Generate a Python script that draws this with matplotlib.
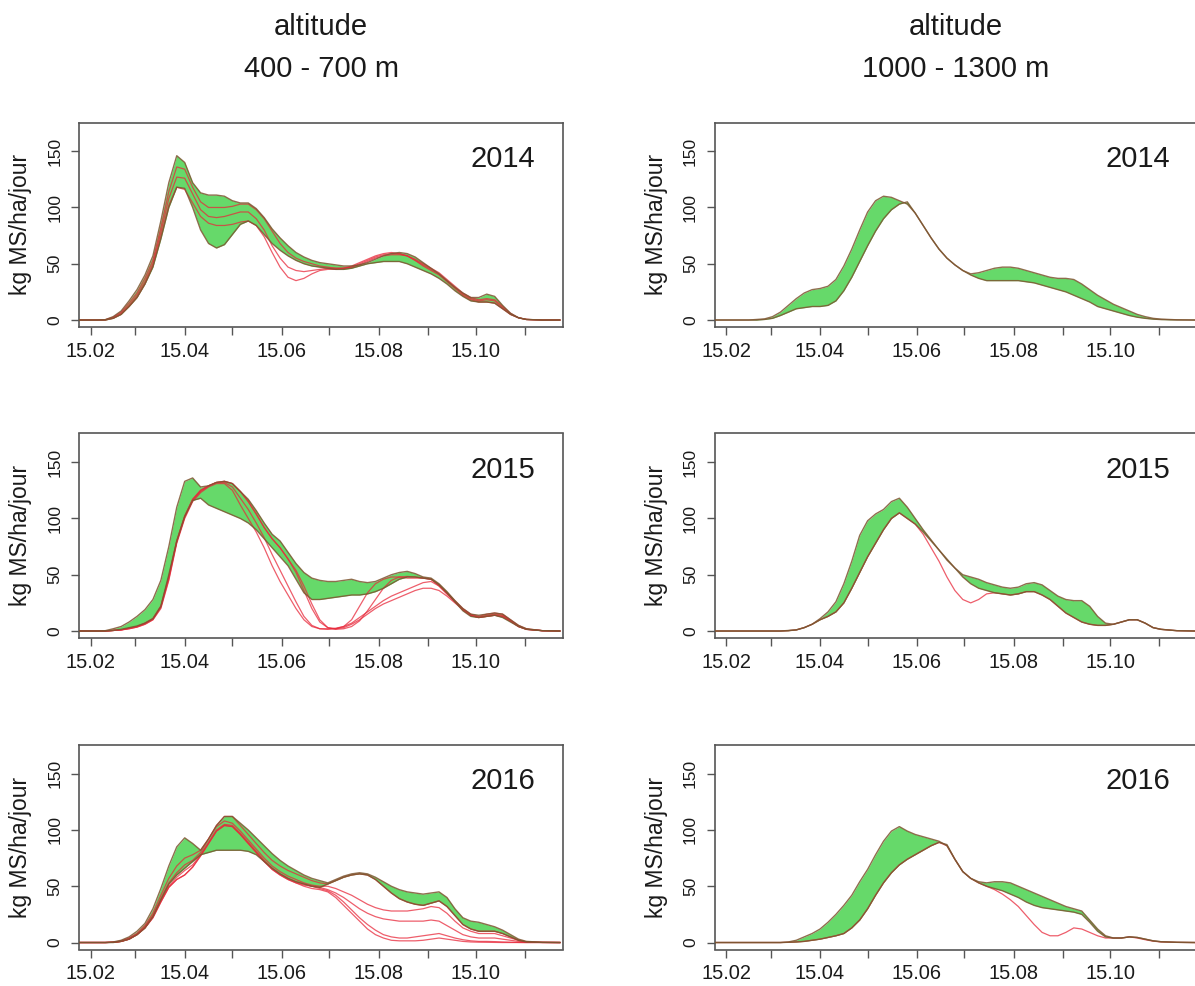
import numpy as np
import matplotlib
matplotlib.use("Agg")
import matplotlib.pyplot as plt

plt.rcParams["font.family"] = ["Liberation Sans", "DejaVu Sans"]

# ---------------------------------------------------------------- data
# day of year at which every series is given
DAYS = [38, 50, 55, 60, 65, 70, 75, 80, 85, 90,
        95, 100, 105, 110, 115, 120, 125, 130, 135, 140,
        145, 150, 155, 160, 165, 170, 175, 180, 185, 190,
        195, 200, 205, 210, 215, 220, 225, 230, 235, 240,
        245, 250, 255, 260, 265, 270, 275, 280, 285, 290,
        295, 300, 305, 310, 315, 320, 330, 341]

# x axis: the 15th of each month (day of year) and its label
MONTH_DAYS = [46, 74, 105, 135, 166, 196, 227, 258, 288, 319]
MONTH_LABELS = ["15.02", "", "15.04", "", "15.06", "", "15.08", "", "15.10", ""]
Y_TICKS = [0, 50, 100, 150]
YEARS = ["2014", "2015", "2016"]
ALTITUDES = ["400 - 700 m", "1000 - 1300 m"]
Y_LABEL = "kg MS/ha/jour"

# ---- 400 - 700 m, 2014
low_2014_upper = [0, 0, 0.3, 3, 8, 17, 27, 40, 57, 88,
                  122, 146, 140, 122, 113, 111, 111, 110, 106, 104,
                  104, 99, 91, 81, 73, 66, 60, 56, 53, 51,
                  50, 49, 48, 48, 49, 51, 54, 57, 59, 60,
                  59, 56, 51, 46, 41, 35, 29, 24, 20, 20,
                  23, 21, 13, 6, 2, 0.5, 0, 0]
low_2014_lower = [0, 0, 0, 1.5, 5, 12, 20, 32, 47, 72,
                  100, 118, 117, 100, 80, 68, 64, 67, 76, 85,
                  88, 84, 76, 68, 62, 57, 53, 50, 48, 47,
                  46, 45, 45, 46, 48, 50, 51, 52, 52, 52,
                  50, 47, 44, 41, 37, 32, 26, 21, 17, 16,
                  16, 15, 10, 5, 2, 0.5, 0, 0]
low_2014_run1 = [0, 0, 0.3, 2.5, 7, 15, 24, 37, 53, 82,
                 114, 136, 134, 118, 105, 100, 100, 100, 101, 103,
                 103, 98, 90, 79, 68, 60, 55, 52, 50, 48,
                 47, 46, 46, 47, 49, 52, 55, 57, 58, 58,
                 57, 54, 50, 46, 42, 36, 30, 24, 20, 18,
                 19, 18, 12, 6, 2, 0.5, 0, 0]
low_2014_run2 = [0, 0, 0.2, 2, 6, 13, 22, 34, 50, 78,
                 108, 127, 126, 112, 98, 92, 91, 92, 94, 96,
                 96, 90, 80, 66, 55, 47, 44, 43, 44, 45,
                 46, 46, 46, 47, 50, 53, 56, 58, 59, 59,
                 57, 53, 49, 45, 41, 35, 29, 23, 19, 17,
                 18, 17, 11, 5, 2, 0.5, 0, 0]
low_2014_run3 = [0, 0, 0, 1.5, 5, 12, 20, 32, 48, 74,
                 102, 118, 116, 104, 92, 86, 84, 84, 85, 87,
                 88, 84, 74, 60, 47, 38, 35, 37, 41, 44,
                 45, 45, 46, 48, 51, 54, 57, 59, 60, 59,
                 57, 53, 48, 44, 40, 34, 28, 22, 18, 16,
                 16, 15, 10, 5, 2, 0.5, 0, 0]

# ---- 1000 - 1300 m, 2014
high_2014_upper = [0, 0, 0, 0, 0.5, 1, 3, 7, 13, 19,
                   24, 27, 28, 30, 36, 48, 63, 80, 96, 106,
                   110, 109, 106, 103, 95, 84, 73, 63, 55, 49,
                   44, 41, 42, 44, 46, 47, 47, 46, 44, 42,
                   40, 38, 37, 37, 36, 32, 27, 22, 18, 14,
                   11, 8, 5, 3, 1.5, 0.8, 0.2, 0]
high_2014_lower = [0, 0, 0, 0, 0, 0.5, 1.5, 4, 7, 10,
                   11, 12, 12, 13, 17, 26, 38, 52, 66, 79,
                   90, 98, 103, 105, 95, 84, 73, 63, 55, 49,
                   44, 40, 37, 35, 35, 35, 35, 35, 34, 33,
                   31, 29, 27, 25, 22, 19, 16, 12, 10, 8,
                   6, 4, 2.5, 1.5, 0.8, 0.4, 0.1, 0]

# ---- 400 - 700 m, 2015
low_2015_upper = [0, 0, 0.3, 2, 4, 8, 13, 19, 28, 45,
                  75, 110, 133, 136, 128, 129, 132, 133, 131, 124,
                  117, 107, 96, 86, 80, 70, 60, 52, 47, 45,
                  44, 44, 45, 46, 44, 43, 44, 47, 50, 52,
                  53, 51, 48, 47, 42, 35, 27, 20, 15, 14,
                  15, 16, 15, 10, 5, 2, 0.3, 0]
low_2015_lower = [0, 0, 0, 0.5, 1.5, 3, 4.5, 7, 11, 22,
                  50, 80, 102, 116, 118, 112, 109, 106, 103, 100,
                  96, 90, 82, 74, 66, 58, 46, 34, 28, 28,
                  29, 30, 31, 32, 32, 33, 35, 38, 42, 46,
                  48, 48, 47, 46, 41, 34, 26, 18, 13, 12,
                  13, 14, 12, 8, 4, 1.5, 0.3, 0]
low_2015_run1 = [0, 0, 0, 0.5, 1, 2.5, 4, 7, 11, 22,
                 48, 80, 102, 117, 125, 129, 132, 133, 131, 124,
                 115, 104, 92, 82, 74, 64, 54, 40, 24, 10,
                 3, 1.5, 2, 4, 9, 18, 28, 38, 45, 48,
                 48.5, 48, 47, 46, 40, 33, 26, 19, 14, 12,
                 14, 15, 14, 9, 4, 1.5, 0.3, 0]
low_2015_run2 = [0, 0, 0, 0.5, 1, 2, 3.5, 6, 10, 20,
                 45, 78, 100, 115, 123, 128, 131, 131, 125, 112,
                 100, 88, 74, 58, 44, 32, 20, 10, 4, 2,
                 2, 2.5, 4, 7, 12, 17, 22, 27, 31, 34,
                 37, 40, 43, 44, 40, 33, 26, 19, 14, 12,
                 13, 14, 13, 9, 4, 1.5, 0.3, 0]
low_2015_run3 = [0, 0, 0, 0.5, 1, 2, 3.5, 6, 10, 21,
                 46, 79, 101, 116, 124, 129, 132, 132, 128, 118,
                 108, 96, 83, 68, 54, 40, 26, 13, 5, 2,
                 1.5, 2, 3, 6, 10, 15, 20, 24, 27, 30,
                 33, 36, 38, 38, 36, 31, 25, 19, 14, 12,
                 13, 14, 13, 9, 4, 1.5, 0.3, 0]
low_2015_run4 = [0, 0, 0, 0.5, 1, 2.5, 4, 7, 11, 22,
                 48, 80, 102, 117, 125, 129, 132, 133, 131, 124,
                 115, 104, 92, 82, 74, 64, 52, 36, 20, 8,
                 3, 2, 4, 10, 22, 34, 42, 46, 48, 48,
                 47, 47, 47, 46, 41, 34, 27, 20, 15, 13,
                 15, 16, 15, 10, 5, 2, 0.3, 0]

# ---- 1000 - 1300 m, 2015
high_2015_upper = [0, 0, 0, 0, 0, 0, 0, 0, 0.5, 1,
                   3, 6, 11, 17, 26, 42, 62, 85, 98, 104,
                   108, 115, 118, 110, 100, 90, 81, 72, 64, 56,
                   50, 48, 46, 43, 41, 39, 38, 39, 42, 43,
                   41, 36, 31, 28, 27, 27, 22, 13, 7, 6,
                   8, 10, 10, 7, 3, 1.5, 0.3, 0]
high_2015_lower = [0, 0, 0, 0, 0, 0, 0, 0, 0.3, 1,
                   3, 6, 10, 13, 17, 25, 38, 52, 66, 78,
                   90, 100, 105, 100, 95, 88, 80, 72, 63, 56,
                   48, 42, 38, 36, 34, 33, 32, 33, 35, 35,
                   32, 28, 22, 16, 12, 8, 6, 5, 5, 6,
                   8, 10, 10, 7, 3, 1.5, 0.3, 0]
high_2015_run1 = [0, 0, 0, 0, 0, 0, 0, 0, 0.3, 1,
                  3, 6, 10, 13, 17, 25, 38, 52, 66, 78,
                  90, 100, 105, 100, 95, 86, 74, 62, 48, 36,
                  28, 25, 28, 33, 34, 33, 32, 33, 35, 35,
                  32, 28, 22, 16, 12, 8, 6, 5, 5, 6,
                  8, 10, 10, 7, 3, 1.5, 0.3, 0]

# ---- 400 - 700 m, 2016
low_2016_upper = [0, 0, 0, 0.5, 2, 5, 10, 17, 30, 48,
                  68, 85, 93, 88, 82, 92, 104, 112, 112, 106,
                  100, 93, 86, 79, 73, 68, 64, 60, 57, 55,
                  53, 56, 59, 61, 62, 61, 58, 54, 50, 47,
                  45, 44, 43, 44, 45, 40, 30, 22, 19, 18,
                  16, 14, 11, 7, 3, 1, 0.2, 0]
low_2016_lower = [0, 0, 0, 0, 1, 3, 7, 13, 23, 38,
                  52, 60, 66, 72, 78, 80, 82, 82, 82, 82,
                  81, 78, 72, 66, 61, 57, 54, 52, 50, 49,
                  52, 55, 58, 60, 61, 60, 56, 50, 44, 39,
                  36, 34, 33, 35, 37, 32, 24, 16, 12, 10,
                  10, 10, 8, 5, 2, 0.5, 0.1, 0]
low_2016_run1 = [0, 0, 0, 0.3, 1.5, 4, 8, 15, 26, 42,
                 57, 68, 75, 78, 82, 92, 104, 112, 112, 104,
                 96, 88, 80, 73, 68, 64, 61, 58, 55, 53,
                 52, 55, 58, 60, 61, 60, 56, 50, 44, 39,
                 36, 34, 33, 35, 37, 32, 24, 16, 12, 10,
                 10, 10, 8, 5, 2, 0.5, 0.1, 0]
low_2016_run2 = [0, 0, 0, 0.2, 1, 3.5, 7.5, 14, 24, 39,
                 53, 62, 69, 73, 80, 92, 103, 108, 106, 99,
                 91, 83, 75, 68, 63, 59, 56, 53, 51, 50,
                 50, 48, 45, 42, 38, 34, 31, 29, 28, 28,
                 28, 29, 30, 32, 31, 26, 19, 13, 10, 8,
                 8, 8, 6, 4, 2, 0.5, 0.1, 0]
low_2016_run3 = [0, 0, 0, 0.2, 1, 3, 7, 13, 23, 37,
                 50, 58, 64, 69, 78, 89, 100, 105, 104, 97,
                 89, 81, 73, 66, 61, 57, 54, 52, 50, 49,
                 47, 44, 40, 35, 30, 26, 23, 21, 20, 19,
                 19, 19, 19, 20, 19, 15, 11, 7, 5, 4,
                 4, 4, 3, 2, 1, 0.3, 0.1, 0]
low_2016_run4 = [0, 0, 0, 0.2, 1, 3, 7, 13, 22, 36,
                 49, 56, 60, 67, 77, 88, 99, 104, 103, 96,
                 88, 80, 72, 65, 60, 56, 53, 51, 50, 48,
                 46, 42, 36, 29, 22, 16, 11, 7, 5, 4,
                 4, 5, 6, 7, 8, 6, 4, 2.5, 1.5, 1,
                 1, 0.8, 0.5, 0.3, 0.1, 0, 0, 0]
low_2016_run5 = [0, 0, 0, 0.2, 1, 3, 7, 13, 22, 36,
                 49, 56, 60, 67, 77, 88, 99, 104, 103, 96,
                 88, 80, 72, 65, 60, 56, 53, 50, 48, 47,
                 45, 40, 33, 26, 19, 12, 7, 4, 2, 1.5,
                 1.5, 1.5, 2, 3, 4, 3, 2, 1, 0.5, 0.3,
                 0.2, 0.1, 0, 0, 0, 0, 0, 0]

# ---- 1000 - 1300 m, 2016
high_2016_upper = [0, 0, 0, 0, 0, 0, 0, 0, 0.5, 2,
                   5, 8, 12, 18, 25, 33, 42, 54, 65, 78,
                   90, 99, 103, 99, 96, 94, 92, 90, 86, 74,
                   63, 57, 54, 53, 54, 54, 53, 50, 47, 44,
                   41, 38, 35, 32, 30, 28, 20, 12, 6, 4,
                   4, 5, 4.5, 3, 1.5, 0.7, 0.2, 0]
high_2016_lower = [0, 0, 0, 0, 0, 0, 0, 0, 0.2, 0.5,
                   1, 2, 3, 4.5, 6, 8, 13, 20, 30, 42,
                   53, 62, 69, 74, 78, 82, 86, 89, 87, 74,
                   63, 57, 53, 50, 48, 46, 43, 40, 36, 33,
                   31, 30, 29, 28, 27, 25, 18, 10, 5, 4,
                   4, 5, 4.5, 3, 1.5, 0.7, 0.2, 0]
high_2016_run1 = [0, 0, 0, 0, 0, 0, 0, 0, 0.2, 0.5,
                  1, 2, 3, 4.5, 6, 8, 13, 20, 30, 42,
                  53, 62, 69, 74, 78, 82, 86, 89, 86, 74,
                  63, 57, 53, 50, 47, 43, 38, 32, 24, 16,
                  9, 6, 6, 9, 13, 12, 9, 6, 4, 4,
                  4, 5, 4, 2.5, 1.2, 0.5, 0.1, 0]

# panel (row, column) -> (band upper edge, band lower edge, simulation runs)
PANELS = {
    (0, 0): (low_2014_upper, low_2014_lower, [low_2014_run1, low_2014_run2, low_2014_run3]),
    (0, 1): (high_2014_upper, high_2014_lower, []),
    (1, 0): (low_2015_upper, low_2015_lower,
             [low_2015_run1, low_2015_run2, low_2015_run3, low_2015_run4]),
    (1, 1): (high_2015_upper, high_2015_lower, [high_2015_run1]),
    (2, 0): (low_2016_upper, low_2016_lower,
             [low_2016_run1, low_2016_run2, low_2016_run3, low_2016_run4, low_2016_run5]),
    (2, 1): (high_2016_upper, high_2016_lower, [high_2016_run1]),
}

# ---------------------------------------------------------------- style
W, H = 1195, 986
GREEN = "#66d96a"
EDGE = "#7d5530"
RED = "#e8283a"
FRAME = "#555555"
TEXT = "#1a1a1a"

COL_X = [(79.0, 563.0), (714.6, 1197.5)]   # left / right frame edges, px
ROW_TOP = [122.5, 433.5, 745.0]            # top frame edge, px
ROW_H = 204.5
XLIM = (38.5, 343.0)
YLIM = (-6.2, 175.5)

fig = plt.figure(figsize=(W / 100, H / 100), dpi=100)
x = np.asarray(DAYS, dtype=float)

for (row, col), (upper, lower, runs) in PANELS.items():
    x0, x1 = COL_X[col]
    top = ROW_TOP[row]
    ax = fig.add_axes([x0 / W, 1 - (top + ROW_H) / H, (x1 - x0) / W, ROW_H / H])

    ax.fill_between(x, lower, upper, color=GREEN, linewidth=0, zorder=1)
    for run in runs:
        ax.plot(x, run, color=RED, lw=0.9, alpha=0.75, zorder=2)
    for edge in (upper, lower):
        ax.plot(x, edge, color=EDGE, lw=1.0, alpha=0.85, zorder=3)

    ax.set_xlim(*XLIM)
    ax.set_ylim(*YLIM)
    ax.set_xticks(MONTH_DAYS)
    ax.set_xticklabels(MONTH_LABELS)
    ax.set_yticks(Y_TICKS)
    ax.set_yticklabels([str(v) for v in Y_TICKS], rotation=90, va="center")
    ax.tick_params(axis="x", length=6, width=1.0, color=FRAME, pad=4.5,
                   labelsize=14.4, labelcolor=TEXT)
    ax.tick_params(axis="y", length=6, width=1.0, color=FRAME, pad=6,
                   labelsize=12.5, labelcolor=TEXT)
    for sp in ax.spines.values():
        sp.set_color(FRAME)
        sp.set_linewidth(1.2)

    ax.text(0.943, 0.783, YEARS[row], transform=ax.transAxes,
            ha="right", va="baseline", fontsize=21, color=TEXT)

    fig.text((x0 - 58.0) / W, 1 - (top + ROW_H / 2) / H, Y_LABEL,
             rotation=90, ha="center", va="center", fontsize=16.5, color=TEXT)

# column headings
for col, alt in enumerate(ALTITUDES):
    cx = (COL_X[col][0] + COL_X[col][1]) / 2
    fig.text(cx / W, 1 - 35 / H, "altitude", ha="center", va="baseline",
             fontsize=21, color=TEXT)
    fig.text(cx / W, 1 - 76.7 / H, alt, ha="center", va="baseline",
             fontsize=21, color=TEXT)

fig.savefig("out.png", dpi=100, facecolor="white")
